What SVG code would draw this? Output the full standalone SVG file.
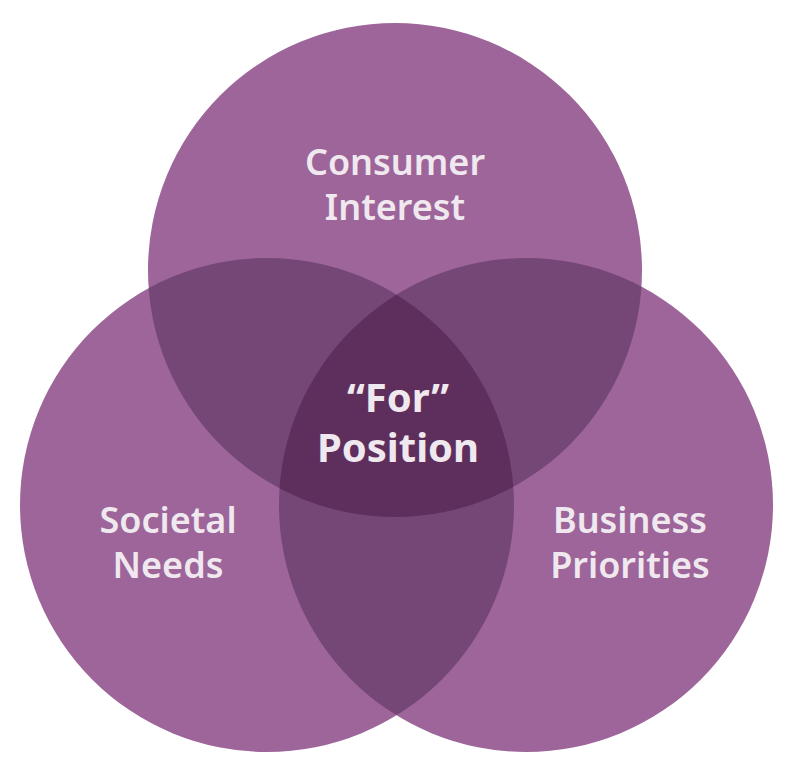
<svg xmlns="http://www.w3.org/2000/svg" width="800" height="770" viewBox="0 0 800 770">
<style>
.c{fill:#9d6599}
.d{fill:#744776}
.t{fill:#5e2f5c}
text{font-family:"Noto Sans","Liberation Sans",sans-serif;font-weight:600;fill:#f0e8ef;text-anchor:middle;font-size:36px}
.b{font-weight:700;font-size:40px}
</style>
<defs>
<clipPath id="cT"><circle cx="395" cy="270" r="247"/></clipPath>
<clipPath id="cL"><circle cx="267" cy="505" r="247"/></clipPath>
<clipPath id="cR"><circle cx="526" cy="505" r="247"/></clipPath>
</defs>
<rect width="800" height="770" fill="#fff"/>
<g id="top"><circle class="c" cx="395" cy="270" r="247"/></g>
<g id="left"><circle class="c" cx="267" cy="505" r="247"/></g>
<g id="right"><circle class="c" cx="526" cy="505" r="247"/></g>
<g id="overlaps">
<circle class="d" cx="267" cy="505" r="247" clip-path="url(#cT)"/>
<circle class="d" cx="526" cy="505" r="247" clip-path="url(#cT)"/>
<circle class="d" cx="526" cy="505" r="247" clip-path="url(#cL)"/>
<g clip-path="url(#cT)"><circle class="t" cx="526" cy="505" r="247" clip-path="url(#cL)"/></g>
</g>
<g id="labels">
<text x="395" y="175">Consumer</text>
<text x="395" y="220">Interest</text>
<text x="168" y="533">Societal</text>
<text x="168" y="578">Needs</text>
<text x="630" y="533">Business</text>
<text x="630" y="578">Priorities</text>
<text class="b" x="398" y="412">“For”</text>
<text class="b" x="398" y="462">Position</text>
</g>
</svg>
